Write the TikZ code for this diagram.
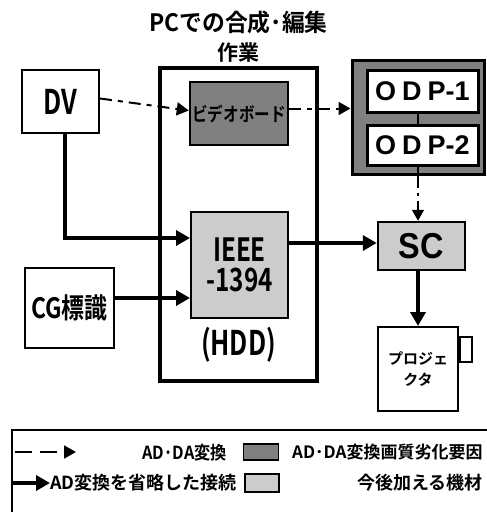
\documentclass[tikz,border=0pt]{standalone}
\usepackage{fontspec}
\setmainfont{Noto Sans CJK JP}[BoldFont={Noto Sans CJK JP Bold}]
\newfontfamily\arialf{Liberation Sans}
\usetikzlibrary{arrows.meta}
\newcommand\fsz[1]{\fontsize{#1}{#1}\selectfont}
\begin{document}
\begin{tikzpicture}[x=1pt,y=-1pt,
  box/.style={draw, line width=2pt, inner sep=0pt, fill=white},
  darkf/.style={fill=black!50},
  lightf/.style={fill=black!20},
  thickarrow/.style={line width=4pt, -{Triangle[length=14pt,width=15pt]}},
  dasharrow/.style={line width=2pt, dash pattern=on 12pt off 6pt on 5pt off 6pt, -{Triangle[length=12pt,width=13pt]}},
  dotarrow/.style={line width=1.5pt, dash pattern=on 12pt off 5pt on 3pt off 5pt, -{Triangle[length=11pt,width=12pt]}},
  lbl/.style={inner sep=0pt, font=\bfseries}]
\useasboundingbox (0,0) rectangle (487,512);
\fill[white] (0,0) rectangle (487,512);

% titles
\node[lbl] (ttl1) at (238.5,22) {\scalebox{0.95}[1]{\fsz{24}PCでの合成･編集}};
\node[lbl] (ttl2) at (238.5,53) {\fsz{21}作業};

% PC box
\node[draw, line width=3.5pt, minimum width=157pt, minimum height=313pt, inner sep=0pt] (pc) at (238.5,224.5) {};

% DV
\node[box, minimum width=77pt, minimum height=63pt] (dv) at (60.5,101.5) {\scalebox{0.75}[1]{\fsz{34}\bfseries DV}};

% video board
\node[box, darkf, line width=2.5pt, minimum width=98pt, minimum height=63pt] (vb) at (239,113.5) {\scalebox{0.82}[1]{\fsz{19}\bfseries ビデオボード}};

% ODP group
\node[box, darkf, line width=3pt, minimum width=132pt, minimum height=114pt] (odp) at (418,117) {};
\node[box, line width=3pt, minimum width=111pt, minimum height=42pt] (odp1) at (422.5,91) {\arialf\fsz{27}\bfseries O\hspace{6pt}D\hspace{6pt}P-1};
\node[box, line width=3pt, minimum width=111pt, minimum height=40pt] (odp2) at (422.5,145) {\arialf\fsz{27}\bfseries O\hspace{6pt}D\hspace{6pt}P-2};
\draw[line width=2.5pt] (odp1.south -| odp.center) -- (odp2.north -| odp.center);
\draw[line width=2.5pt] (odp2.south -| odp.center) -- (odp.south);

% IEEE
\node[box, lightf, minimum width=97pt, minimum height=106pt, align=center] (ieee) at (239.5,265)
  {\scalebox{0.76}[1]{\fsz{32}\bfseries IEEE}\\[6pt]\scalebox{0.76}[1]{\fsz{32}\bfseries -1394}};
\node[lbl] (hdd) at (238.5,345) {\scalebox{0.75}[1]{\fsz{34}(HDD)}};

% SC
\node[box, lightf, line width=2.5pt, minimum width=87pt, minimum height=48pt] (sc) at (421.5,246) {\scalebox{0.9}[1]{\arialf\fsz{36}\bfseries SC}};

% CG
\node[box, line width=1.5pt, minimum width=89pt, minimum height=80pt] (cg) at (69.5,308) {\scalebox{0.82}[1]{\fsz{28}\bfseries CG標識}};

% projector
\node[box, minimum width=80pt, minimum height=84pt, align=center] (proj) at (418,369) {\fsz{15}\bfseries プロジェ\\[6pt]\fsz{15}\bfseries クタ};
\node[draw, line width=1.5pt, minimum width=12pt, minimum height=25pt, inner sep=0pt, anchor=west] (plug) at (proj.east |- 0,349.5) {};

% connectors
\draw[dasharrow] ([yshift=3pt]dv.east) -- ([yshift=3pt]vb.west);
\draw[dasharrow] ([yshift=5pt]vb.east) -- ([yshift=5pt]vb.east -| odp.west);
\draw[dotarrow] (odp.south) -- (odp.south |- sc.north);
\draw[thickarrow] ([xshift=4pt]dv.south) |- ([yshift=27pt]ieee.west);
\draw[thickarrow] ([yshift=10pt]cg.east) -- ([yshift=10pt]cg.east -| ieee.west);
\draw[thickarrow] ([yshift=22pt]ieee.east) -- ([yshift=22pt]ieee.east -| sc.west);
\draw[thickarrow] (proj.north |- sc.south) -- (proj.north);

% legend
\draw[line width=1.5pt] (12,520) -- (12,430) -- (500,430);
\coordinate (l1a) at (15,452);
\coordinate (l1b) at (76,452);
\draw[line width=2pt, dash pattern=on 17pt off 8pt, -{Triangle[length=12pt,width=13pt]}] (l1a) -- (l1b);
\coordinate (l2a) at (12,483);
\coordinate (l2b) at (50,483);
\draw[thickarrow] (l2a) -- (l2b);
\node[lbl, anchor=east] (t1) at (227,453) {\scalebox{0.9}[1]{\fsz{18}AD･DA変換}};
\node[draw, darkf, line width=1.5pt, minimum width=35pt, minimum height=16pt, inner sep=0pt] (sw1) at (261,452) {};
\node[lbl, anchor=west] (t2) at (292,452) {\fsz{17}AD･DA変換画質劣化要因};
\node[lbl, anchor=west] (t3) at (50,483) {\fsz{18}AD変換を省略した接続};
\node[draw, lightf, line width=1.5pt, minimum width=34pt, minimum height=18pt, inner sep=0pt] (sw2) at (262,483) {};
\node[lbl, anchor=east] (t4) at (483,483) {\fsz{18}今後加える機材};
\end{tikzpicture}
\end{document}
